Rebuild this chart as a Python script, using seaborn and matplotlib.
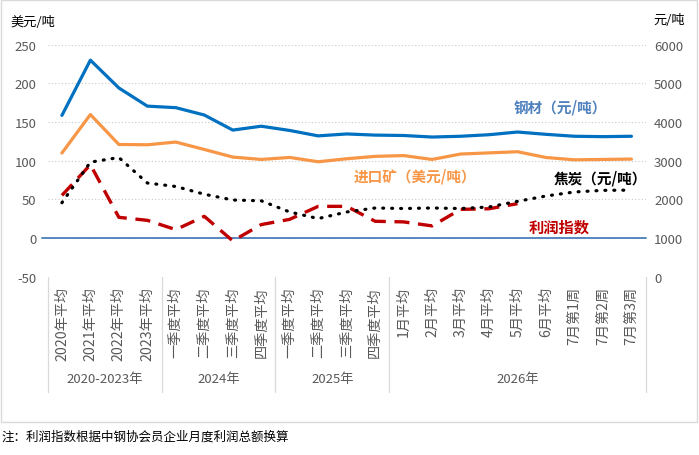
import numpy as np
import pandas as pd
import seaborn as sns
import matplotlib.pyplot as plt
import matplotlib.transforms as mtransforms
from matplotlib.patches import Rectangle

# categories on the x axis
tick_labels = ["2020年平均", "2021年平均", "2022年平均", "2023年平均",
               "一季度平均", "二季度平均", "三季度平均", "四季度平均",
               "一季度平均", "二季度平均", "三季度平均", "四季度平均",
               "1月平均", "2月平均", "3月平均", "4月平均", "5月平均", "6月平均",
               "7月第1周", "7月第2周", "7月第3周"]
groups = ["2020-2023年", "2024年", "2025年", "2026年"]
group_sizes = [4, 4, 4, 9]

# right axis (元/吨)
steel = [4170, 5600, 4880, 4410, 4370, 4180, 3790, 3890, 3780, 3640, 3690,
         3660, 3650, 3610, 3630, 3670, 3740, 3680, 3630, 3620, 3630]
coke = [1910, 2960, 3080, 2420, 2330, 2130, 1980, 1960, 1670, 1500, 1670,
        1774, 1760, 1774, 1760, 1800, 1946, 2084, 2188, 2230, 2236]
# left axis (美元/吨, index)
ore = [109.8, 159.6, 120.9, 120.5, 124.0, 114.4, 104.6, 101.5, 104.1, 98.5, 102.4,
       105.5, 106.5, 101.5, 108.5, 110.0, 111.5, 104.0, 101.0, 101.5, 102.0]
profit = [55.0, 94.7, 26.6, 22.7, 10.7, 27.9, -3.9, 17.2, 24.0, 40.8, 40.8,
          21.5, 20.7, 15.5, 36.9, 37.7, 44.3, np.nan, np.nan, np.nan, np.nan]

df = pd.DataFrame({"idx": np.arange(len(tick_labels)), "steel": steel, "coke": coke,
                   "ore": ore, "profit": profit})

sns.set_theme(style="white")
plt.rcParams['font.family'] = ['Noto Sans CJK SC', 'DejaVu Sans']
plt.rcParams['axes.unicode_minus'] = False

fig = plt.figure(figsize=(6.99, 4.56), dpi=100)
ax = fig.add_axes([0.0682, 0.3914, 0.8555, 0.5084])
ax2 = ax.twinx()

gray = '#595959'

# left axis series
sns.lineplot(data=df, x="idx", y="ore", ax=ax, color='#F79646', lw=2.3)
sns.lineplot(data=df, x="idx", y="profit", ax=ax, color='#C00000', lw=2.4,
             linestyle=(0, (4.5, 2.6)))
ax.axhline(0, xmin=-0.01, color='#4A7EBB', lw=1.3, clip_on=False, zorder=1)

# right axis series
sns.lineplot(data=df, x="idx", y="steel", ax=ax2, color='#0070C0', lw=2.3)
sns.lineplot(data=df, x="idx", y="coke", ax=ax2, color='black', lw=2.3,
             linestyle=(0, (0.3, 2.5)), dash_capstyle='round')

ax.set_xlim(-0.5, len(tick_labels) - 0.5)
ax.set_ylim(-50, 250)
ax2.set_ylim(0, 6000)
ax.set_yticks(range(-50, 251, 50))
ax2.set_yticks(range(0, 6001, 1000))

ax.grid(axis='y', linestyle=(0, (1, 2)), color='#C8C8C8', lw=0.8)
ax.grid(axis='x', visible=False)
ax2.grid(False)
for a in (ax, ax2):
    for s in a.spines.values():
        s.set_visible(False)
    a.set_xlabel("")
    a.set_ylabel("")

ax.set_xticks(range(len(tick_labels)))
ax.set_xticklabels(tick_labels, rotation=90, va='top', ha='center')
ax.tick_params(axis='x', length=0, pad=7, labelsize=10.2, labelcolor=gray)
ax.tick_params(axis='y', length=0, pad=8, labelsize=9.5, labelcolor=gray)
ax2.tick_params(axis='y', length=0, pad=6, labelsize=9.5, labelcolor=gray)
ax2.tick_params(axis='x', labelbottom=False, length=0)

# group separators and labels under the category axis
trans = mtransforms.blended_transform_factory(ax.transData, ax.transAxes)
bounds = np.concatenate([[0], np.cumsum(group_sizes)]) - 0.5
for b in bounds:
    ax.plot([b, b], [0, -0.498], transform=trans, color='#D9D9D9', lw=0.9, clip_on=False)
for g, lo, hi in zip(groups, bounds[:-1], bounds[1:]):
    ax.text((lo + hi) / 2, -0.442, g, transform=trans, ha='center', va='center',
            fontsize=9.5, color=gray)

# series labels
fig.text(560 / 699, 1 - 108 / 456, "钢材（元/吨）", color='#4F81BD', fontsize=10.5,
         fontweight='bold', ha='center', va='center')
fig.text(415 / 699, 1 - 177 / 456, "进口矿（美元/吨）", color='#F79646', fontsize=10.5,
         fontweight='bold', ha='center', va='center')
fig.text(600 / 699, 1 - 178 / 456, "焦炭（元/吨）", color='black', fontsize=10.5,
         fontweight='bold', ha='center', va='center')
fig.text(559 / 699, 1 - 228 / 456, "利润指数", color='#C00000', fontsize=11,
         fontweight='bold', ha='center', va='center')

# unit labels
fig.text(10 / 699, 1 - 22 / 456, "美元/吨", fontsize=9.5, color='black', va='center')
fig.text(653 / 699, 1 - 20 / 456, "元/吨", fontsize=9.5, color='black', va='center')

# chart frame and note
fig.patches.append(Rectangle((1 / 699, 1 - 423 / 456), 696 / 699, 422 / 456,
                             transform=fig.transFigure, fill=False,
                             edgecolor='#D9D9D9', lw=1))
fig.text(2 / 699, 1 - 437 / 456, "注：利润指数根据中钢协会员企业月度利润总额换算",
         fontsize=9, color='black', va='center')

plt.savefig('out.png', dpi=100)
